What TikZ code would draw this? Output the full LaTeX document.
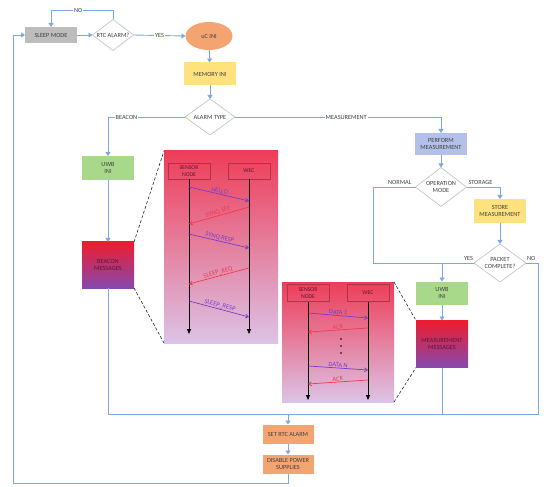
\documentclass[tikz,border=0pt]{standalone}
\usepackage{fontspec}
\setmainfont{Carlito}
\usetikzlibrary{arrows.meta,shapes.geometric}
\definecolor{flowBlue}{HTML}{7DA7E3}
\definecolor{flowText}{HTML}{404040}
\definecolor{flowGray}{HTML}{BDBDBD}
\definecolor{flowYellow}{HTML}{FFE27D}
\definecolor{flowGreen}{HTML}{A8D98B}
\definecolor{flowLilac}{HTML}{B3C1E8}
\definecolor{flowOrange}{HTML}{F4A470}
\definecolor{decGray}{HTML}{C4C4C4}
\definecolor{msgRed}{HTML}{EE1C2E}
\definecolor{msgPurple}{HTML}{8549AE}
\definecolor{msgText}{HTML}{5A1838}
\definecolor{seqPink}{HTML}{EE3D58}
\definecolor{seqLilac}{HTML}{DCC3E6}
\definecolor{seqEdge}{HTML}{B33346}
\definecolor{seqPurple}{HTML}{7A3CC8}
\definecolor{seqRed}{HTML}{F03A4E}
\tikzset{
  flow diagram/.style={
    x=1pt, y=-1pt, line width=0.9pt,
    >={Triangle[length=4pt,width=5pt]},
    every node/.style={font=\fontsize{6.3}{7.3}\selectfont,
      text=flowText, inner sep=0pt, outer sep=0pt, align=center}
  },
  flow box/.style={rectangle, minimum width=52pt, minimum height=#1},
  flow decision/.style={rectangle, path picture={
      \draw[decGray, line width=0.7pt]
        (path picture bounding box.north) -- (path picture bounding box.east)
        -- (path picture bounding box.south) -- (path picture bounding box.west)
        -- cycle;}},
  flow line/.style={draw=flowBlue},
  flow arrow/.style={draw=flowBlue, ->},
  flow label/.style={fill=white, inner xsep=1pt},
  msg box/.style={flow box=#1, top color=msgRed, bottom color=msgPurple,
    text=msgText},
  seq panel/.style={rectangle, top color=seqPink, bottom color=seqLilac},
  seq actor/.style={rectangle, draw=seqEdge, line width=0.5pt,
    minimum width=42pt, minimum height=16pt, text=msgText,
    font=\fontsize{5.8}{6.8}\selectfont},
  seq life/.style={draw=black, line width=0.8pt,
    -{Triangle[length=5pt,width=4pt]}},
  seq msg/.style={line width=0.7pt, -{Straight Barb[length=3pt,width=4pt]}},
  seq label/.style={sloped, above=1pt, font=\fontsize{6.5}{7.5}\selectfont},
  zoom line/.style={draw=black!85, line width=0.6pt,
    dash pattern=on 3pt off 2pt}
}

\begin{document}
\begin{tikzpicture}[flow diagram]
  \useasboundingbox (0,0) rectangle (550,487);

  % zoomed message panels
  \node[seq panel, minimum width=114pt, minimum height=192pt] (bpanel) at (221,247) {};
  \node[seq panel, minimum width=112pt, minimum height=120pt] (mpanel) at (338,342) {};

  % flowchart nodes
  \node[flow box=16pt, fill=flowGray] (sleep) at (51,35) {SLEEP MODE};
  \node[flow decision, minimum width=41pt, minimum height=31pt] (rtc) at (113,35) {RTC ALARM?};
  \node[ellipse, fill=flowOrange, minimum width=47pt, minimum height=28pt] (ucini) at (209,36) {uC INI};
  \node[flow box=23pt, fill=flowYellow] (memini) at (210,74) {MEMORY INI};
  \node[flow decision, minimum width=50pt, minimum height=36pt] (alarm) at (210,117) {ALARM TYPE};
  \node[flow box=24pt, fill=flowGreen] (uwbb) at (108,168) {UWB\\INI};
  \node[msg box=46pt] (beacon) at (108,265) {BEACON\\MESSAGES};
  \node[flow box=22pt, fill=flowLilac] (perform) at (441,144) {PERFORM\\MEASUREMENT};
  \node[flow decision, minimum width=51pt, minimum height=39pt] (opmode) at (441,187) {OPERATION\\MODE};
  \node[flow box=24pt, fill=flowYellow] (store) at (500,211) {STORE\\MEASUREMENT};
  \node[flow decision, minimum width=52pt, minimum height=38pt] (packet) at (500,263) {PACKET\\COMPLETE?};
  \node[flow box=23pt, fill=flowGreen] (uwbm) at (442,293) {UWB\\INI};
  \node[msg box=47pt] (measm) at (442,344) {MEASUREMENT\\MESSAGES};
  \node[flow box=19pt, fill=flowOrange, minimum width=51pt] (setrtc) at (288,434) {SET RTC ALARM};
  \node[flow box=19pt, fill=flowOrange, minimum width=51pt] (disable) at (288,464) {DISABLE POWER\\SUPPLIES};

  \coordinate (normal) at (373,263);
  \coordinate (merge) at (538,414);
  \coordinate (back) at (13,483);

  % flowchart connectors
  \draw[flow arrow] (sleep) -- (rtc);
  \draw[flow arrow] (rtc.north) -- ++(0,-9) -| node[pos=0.28, flow label] {NO} (sleep.north);
  \draw[flow arrow] (rtc.east) -- node[flow label] {YES} (ucini.west);
  \draw[flow arrow] (ucini) -- (memini);
  \draw[flow arrow] (memini) -- (alarm);
  \draw[flow arrow] (alarm.west) -| node[pos=0.38, flow label] {BEACON} (uwbb.north);
  \draw[flow arrow] (alarm.east) -| node[pos=0.27, flow label] {MEASUREMENT} (perform.north);
  \draw[flow arrow] (uwbb) -- (beacon);
  \draw[flow arrow] (perform) -- (opmode);
  \draw[flow line] (opmode.west) -| node[pos=0, anchor=south east, xshift=-4pt, yshift=2pt] {NORMAL} (normal);
  \draw[flow arrow] (opmode.east) -| node[pos=0, anchor=south west, xshift=2pt, yshift=2pt] {STORAGE} (store.north);
  \draw[flow arrow] (store) -- (packet);
  \draw[flow line] (packet.west) -- node[pos=0, anchor=south east, xshift=-1pt, yshift=2pt] {YES} (normal);
  \draw[flow arrow] (uwbm.north |- normal) -- (uwbm);
  \draw[flow arrow] (uwbm) -- (measm);
  \draw[flow line] (beacon.south) |- (merge) |- node[pos=1, anchor=south west, xshift=1pt, yshift=2pt] {NO} (packet.east);
  \draw[flow line] (measm.south) -- (measm.south |- merge);
  \draw[flow arrow] (setrtc.north |- merge) -- (setrtc);
  \draw[flow arrow] (setrtc) -- (disable);
  \draw[flow arrow] (disable.south) |- (back) |- (sleep.west);

  % zoom lines
  \draw[zoom line] (beacon.north east) -- (bpanel.north west);
  \draw[zoom line] (beacon.south east) -- (bpanel.south west);
  \draw[zoom line] (mpanel.north east) -- (measm.north west);
  \draw[zoom line] (mpanel.south east) -- (measm.south west);

  % beacon exchange
  \node[seq actor] (bsensor) at (189,171) {SENSOR\\NODE};
  \node[seq actor] (bwec) at (249,171) {WEC};
  \draw[seq life] (bsensor.south) -- (bsensor.south |- 0,334);
  \draw[seq life] (bwec.south) -- (bwec.south |- 0,334);
  \draw[seq msg, seqPurple] (bsensor.south |- 0,187) -- node[seq label, text=seqPurple] {HELLO} (bwec.south |- 0,201);
  \draw[seq msg, seqRed] (bwec.south |- 0,207) -- node[seq label, text=seqRed] {SYNQ SET} (bsensor.south |- 0,224);
  \draw[seq msg, seqPurple] (bsensor.south |- 0,234) -- node[seq label, text=seqPurple] {SYNQ RESP} (bwec.south |- 0,248);
  \draw[seq msg, seqRed] (bwec.south |- 0,268) -- node[seq label, text=seqRed] {SLEEP\_REQ} (bsensor.south |- 0,284);
  \draw[seq msg, seqPurple] (bsensor.south |- 0,301) -- node[seq label, text=seqPurple] {SLEEP\_RESP} (bwec.south |- 0,317);

  % measurement exchange
  \node[seq actor, minimum height=17pt] (msensor) at (308,293) {SENSOR\\NODE};
  \node[seq actor, minimum height=17pt] (mwec) at (368,293) {WEC};
  \draw[seq life] (msensor.south) -- (msensor.south |- 0,400);
  \draw[seq life] (mwec.south) -- (mwec.south |- 0,400);
  \draw[seq msg, seqPurple] (msensor.south |- 0,313) -- node[seq label, text=seqPurple] {DATA 1} (mwec.south |- 0,318);
  \draw[seq msg, seqRed] (mwec.south |- 0,328) -- node[seq label, text=seqRed] {ACK} (msensor.south |- 0,332);
  \foreach \dy in {339,346,353}
    \fill[black] (341,\dy) circle[radius=0.9pt];
  \draw[seq msg, seqPurple] (msensor.south |- 0,366) -- node[seq label, text=seqPurple] {DATA N} (mwec.south |- 0,370);
  \draw[seq msg, seqRed] (mwec.south |- 0,380) -- node[seq label, text=seqRed] {ACK} (msensor.south |- 0,384);
\end{tikzpicture}
\end{document}
